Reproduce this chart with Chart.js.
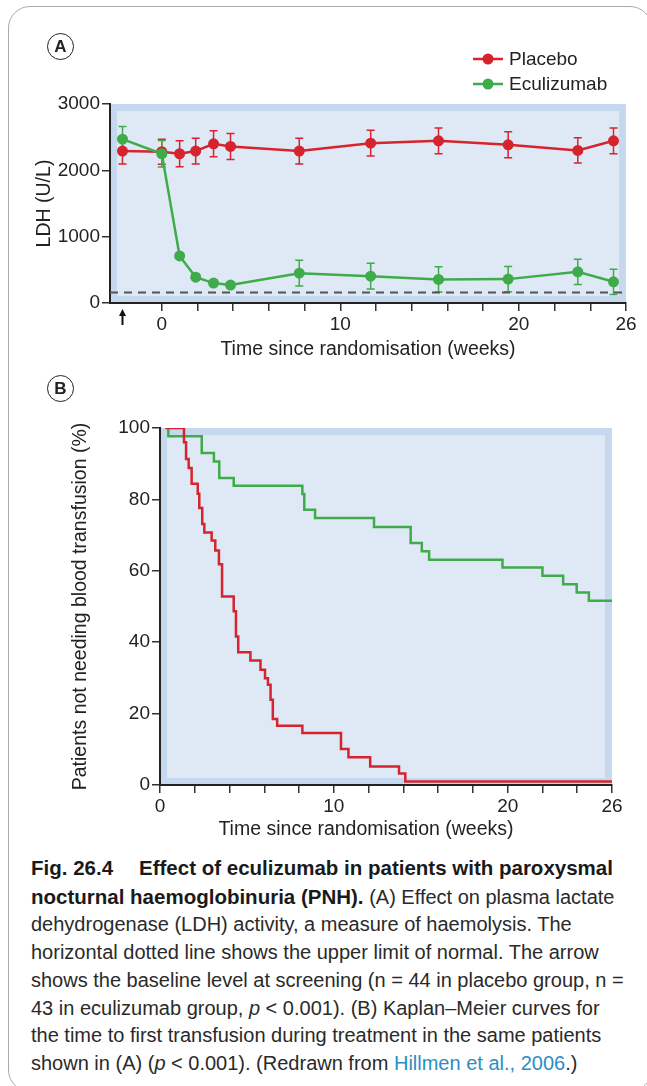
<!DOCTYPE html>
<html>
<head>
<meta charset="utf-8">
<script src="https://cdn.jsdelivr.net/npm/chart.js@4.4.1/dist/chart.umd.min.js"></script>
<style>
body { margin: 0; background: #fff; }
#page { position: relative; width: 647px; height: 1086px; overflow: hidden; font-family: "Liberation Sans", Arial, sans-serif; color: #222; }
#frame { position: absolute; left: 8px; top: 6px; width: 644px; height: 1086px; border: 1.5px solid #aaa; border-radius: 22px; box-sizing: border-box; }
.tag { position: absolute; width: 27px; height: 27px; border: 1.5px solid #222; border-radius: 50%; box-sizing: border-box; text-align: center; line-height: 25px; font-weight: bold; font-size: 17px; }
canvas { position: absolute; left: 0; }
#xtitleB { position: absolute; left: 166px; width: 400px; top: 816px; text-align: center; font-size: 19.5px; line-height: 24px; }
#caption { position: absolute; left: 31px; top: 854px; font-size: 20px; line-height: 27.7px; white-space: nowrap; color: #2a2a2a; }
#caption b { color: #1a1a1a; font-size: 20.5px; }
#caption .gap { display: inline-block; width: 26px; }
#caption .ref { color: #2b8ec6; }
</style>
</head>
<body>
<div id="page">
  <div id="frame"></div>
  <canvas id="chartA" width="647" height="370" style="top:0"></canvas>
  <canvas id="chartB" width="647" height="480" style="top:370px"></canvas>
  <div class="tag" style="left:47px; top:33px">A</div>
  <div class="tag" style="left:47px; top:375px">B</div>
  <div id="xtitleB">Time since randomisation (weeks)</div>
  <div id="caption"><b>Fig. 26.4<span class="gap"></span>Effect of eculizumab in patients with paroxysmal</b><br><b>nocturnal haemoglobinuria (PNH).</b> (A) Effect on plasma lactate<br>dehydrogenase (LDH) activity, a measure of haemolysis. The<br>horizontal dotted line shows the upper limit of normal. The arrow<br>shows the baseline level at screening (n = 44 in placebo group, n =<br>43 in eculizumab group, <i>p</i> &lt; 0.001). (B) Kaplan–Meier curves for<br>the time to first transfusion during treatment in the same patients<br>shown in (A) (<i>p</i> &lt; 0.001). (Redrawn from <span class="ref">Hillmen et al., 2006</span>.)</div>
</div>
<script>
// Panel A: plasma LDH by visit (weeks since randomisation, screening at -2.2)
var weeksA = [-2.2, 0, 1, 1.9, 2.9, 3.85, 7.7, 11.7, 15.5, 19.4, 23.3, 25.3];
var placeboLDH = [2290, 2280, 2250, 2290, 2400, 2360, 2290, 2410, 2445, 2385, 2300, 2445];
var placeboErr = [195, 190, 195, 195, 195, 195, 195, 195, 195, 195, 190, 195];
var eculizumabLDH = [2470, 2250, 710, 390, 300, 270, 450, 405, 355, 360, 470, 320];
var eculizumabErr = [190, 200, 40, 40, 40, 40, 195, 195, 190, 190, 190, 190];
var normalLimit = 160;
var screeningWeek = -2.2;
var ldhTicks = [0, 1000, 2000, 3000];

// shared week axis
var weekTicks = [0, 2, 4, 6, 8, 10, 12, 14, 16, 18, 20, 22, 24, 26];
var weekLabels = [0, 10, 20, 26];

// Panel B: Kaplan-Meier, % not needing transfusion
var placeboKmWeeks = [0.3, 1.38, 1.5, 1.65, 1.82, 2.17, 2.26, 2.43, 2.55, 2.97, 3.18, 3.39, 3.57, 4.24, 4.37, 4.5, 5.2, 5.78, 6.04, 6.21, 6.36, 6.49, 6.74, 8.19, 10.41, 10.84, 12.09, 13.75, 14.11, 26];
var placeboKm = [100, 96.0, 91.3, 88.8, 84.4, 81.6, 77.6, 73.1, 70.7, 68.5, 65.7, 61.8, 52.8, 48.7, 41.6, 37.2, 34.9, 32.3, 29.9, 28.1, 23.9, 18.5, 16.6, 14.6, 10.1, 7.8, 5.2, 3.2, 1.0, 1.0];
var eculizumabKmWeeks = [0.4, 0.48, 2.4, 3.1, 3.41, 4.24, 8.19, 8.3, 8.92, 12.31, 14.42, 15.06, 15.48, 19.7, 22.0, 23.19, 23.97, 24.67, 26];
var eculizumabKm = [100, 97.7, 93.0, 90.6, 86.0, 83.8, 81.5, 77.1, 74.8, 72.3, 67.8, 65.5, 63.1, 60.9, 58.6, 56.2, 53.9, 51.6, 51.6];
var pctTicks = [0, 20, 40, 60, 80, 100];

var RED = '#d5242e';
var GREEN = '#3fab4a';
var FONT = '"Liberation Sans", Arial, sans-serif';
Chart.defaults.font.family = FONT;
Chart.defaults.color = '#222';

function pts(xs, ys) {
    return xs.map(function(x, i) { return {x: x, y: ys[i]}; });
}

var panelBackground = {
    id: 'panelBackground',
    beforeDraw: function(chart) {
        var a = chart.chartArea, ctx = chart.ctx;
        ctx.save();
        ctx.fillStyle = '#c6d8ed';
        ctx.fillRect(a.left, a.top, a.right - a.left, a.bottom - a.top);
        ctx.fillStyle = '#dfe9f5';
        ctx.fillRect(a.left + 7, a.top + 7, a.right - a.left - 14, a.bottom - a.top - 14);
        ctx.restore();
    }
};

var errorBars = {
    id: 'errorBars',
    beforeDatasetsDraw: function(chart) {
        var ctx = chart.ctx, xs = chart.scales.x, ys = chart.scales.y;
        chart.data.datasets.forEach(function(ds) {
            if (!ds.errors) return;
            ctx.save();
            ctx.strokeStyle = ds.borderColor;
            ctx.lineWidth = 1.5;
            ds.data.forEach(function(p, i) {
                var px = xs.getPixelForValue(p.x);
                var top = ys.getPixelForValue(p.y + ds.errors[i]);
                var bot = ys.getPixelForValue(p.y - ds.errors[i]);
                ctx.beginPath();
                ctx.moveTo(px, top); ctx.lineTo(px, bot);
                ctx.moveTo(px - 4, top); ctx.lineTo(px + 4, top);
                ctx.moveTo(px - 4, bot); ctx.lineTo(px + 4, bot);
                ctx.stroke();
            });
            ctx.restore();
        });
    }
};

// arrow under the axis marking the screening visit
var screeningArrow = {
    id: 'screeningArrow',
    afterDraw: function(chart) {
        var ctx = chart.ctx;
        var px = chart.scales.x.getPixelForValue(screeningWeek);
        var y0 = chart.chartArea.bottom;
        ctx.save();
        ctx.strokeStyle = '#111';
        ctx.fillStyle = '#111';
        ctx.lineWidth = 2;
        ctx.beginPath();
        ctx.moveTo(px, y0 + 22); ctx.lineTo(px, y0 + 11);
        ctx.stroke();
        ctx.beginPath();
        ctx.moveTo(px, y0 + 6); ctx.lineTo(px - 3.5, y0 + 13); ctx.lineTo(px + 3.5, y0 + 13);
        ctx.closePath();
        ctx.fill();
        ctx.restore();
    }
};

var legendA = {
    id: 'legendA',
    afterDraw: function(chart) {
        var ctx = chart.ctx;
        ctx.save();
        chart.data.datasets.slice(0, 2).forEach(function(ds, i) {
            var y = 59 + i * 25;
            ctx.strokeStyle = ds.borderColor;
            ctx.lineWidth = 2.5;
            ctx.beginPath();
            ctx.moveTo(473, y); ctx.lineTo(503, y);
            ctx.stroke();
            ctx.fillStyle = ds.borderColor;
            ctx.beginPath();
            ctx.arc(488, y, 5.5, 0, Math.PI * 2);
            ctx.fill();
            ctx.fillStyle = '#222';
            ctx.font = '19px ' + FONT;
            ctx.textBaseline = 'middle';
            ctx.fillText(ds.label, 509, y + 1);
        });
        ctx.restore();
    }
};

function weekAxis(min, height, title) {
    return {
        type: 'linear',
        min: min,
        max: 26,
        afterBuildTicks: function(s) { s.ticks = weekTicks.map(function(v) { return {value: v}; }); },
        afterFit: function(s) { s.height = height; },
        ticks: {
            autoSkip: false, maxRotation: 0, padding: 2, color: '#222', font: {size: 19},
            callback: function(v) { return weekLabels.indexOf(v) >= 0 ? String(v) : ''; }
        },
        grid: { drawOnChartArea: false, drawTicks: true, tickLength: 8, color: '#333', lineWidth: 1.5 },
        border: { display: true, color: '#222', width: 2 },
        title: title
    };
}

function valueAxis(min, max, ticks, width, title, titlePad) {
    return {
        min: min,
        max: max,
        afterBuildTicks: function(s) { s.ticks = ticks.map(function(v) { return {value: v}; }); },
        afterFit: function(s) { s.width = width; },
        ticks: { padding: 2, color: '#222', font: {size: 19}, callback: function(v) { return String(v); } },
        grid: { drawOnChartArea: false, drawTicks: true, tickLength: 8, color: '#333', lineWidth: 1.5 },
        border: { display: true, color: '#222', width: 2 },
        title: { display: true, text: title, color: '#222', font: {size: 19.5}, padding: {top: titlePad, bottom: 0} }
    };
}

new Chart(document.getElementById('chartA'), {
    type: 'line',
    data: {
        datasets: [{
            label: 'Placebo',
            data: pts(weeksA, placeboLDH),
            errors: placeboErr,
            borderColor: RED,
            backgroundColor: RED,
            borderWidth: 2.5,
            pointRadius: 5.5,
            pointBorderWidth: 0,
            order: 1
        }, {
            label: 'Eculizumab',
            data: pts(weeksA, eculizumabLDH),
            errors: eculizumabErr,
            borderColor: GREEN,
            backgroundColor: GREEN,
            borderWidth: 2.5,
            pointRadius: 5.5,
            pointBorderWidth: 0,
            order: 0
        }, {
            label: 'Upper limit of normal',
            data: [{x: -2.9, y: normalLimit}, {x: 26, y: normalLimit}],
            borderColor: '#555',
            borderWidth: 2,
            borderDash: [8, 6],
            pointRadius: 0,
            order: 2
        }]
    },
    options: {
        responsive: false,
        animation: false,
        layout: { padding: { top: 104, right: 21, left: 0, bottom: 0 } },
        plugins: { legend: { display: false }, tooltip: { enabled: false } },
        scales: {
            x: weekAxis(-2.9, 67, { display: true, text: 'Time since randomisation (weeks)', color: '#222', font: {size: 19.5}, padding: {top: 0, bottom: 8.3} }),
            y: valueAxis(0, 3000, ldhTicks, 110, 'LDH (U/L)', 33)
        }
    },
    plugins: [panelBackground, errorBars, screeningArrow, legendA]
});

new Chart(document.getElementById('chartB'), {
    type: 'line',
    data: {
        datasets: [{
            label: 'Placebo',
            data: pts(placeboKmWeeks, placeboKm),
            borderColor: RED,
            borderWidth: 2.5,
            stepped: 'before',
            pointRadius: 0
        }, {
            label: 'Eculizumab',
            data: pts(eculizumabKmWeeks, eculizumabKm),
            borderColor: GREEN,
            borderWidth: 2.5,
            stepped: 'before',
            pointRadius: 0
        }]
    },
    options: {
        responsive: false,
        animation: false,
        layout: { padding: { top: 58, right: 35, left: 0, bottom: 0 } },
        plugins: { legend: { display: false }, tooltip: { enabled: false } },
        scales: {
            x: weekAxis(0, 65, { display: false }),
            y: valueAxis(0, 100, pctTicks, 160, 'Patients not needing blood transfusion (%)', 69)
        }
    },
    plugins: [panelBackground]
});
</script>
</body>
</html>
